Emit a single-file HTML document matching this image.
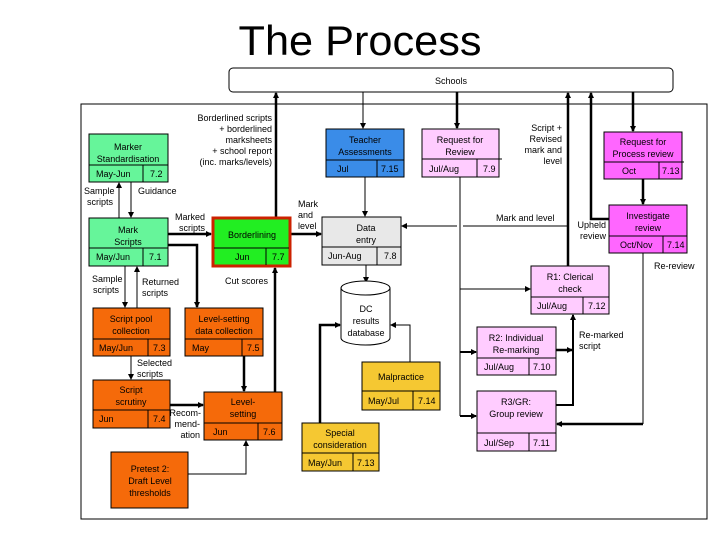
<!DOCTYPE html>
<html><head><meta charset="utf-8"><style>
html,body{margin:0;padding:0;background:#fff;}
svg{display:block;}
text{font-family:"Liberation Sans",sans-serif;font-size:9px;fill:#000;}
.b{stroke:#000;stroke-width:1;}
</style></head><body>
<svg width="720" height="540" viewBox="0 0 720 540" xmlns="http://www.w3.org/2000/svg">
<defs>
<marker id="a" markerWidth="6" markerHeight="6" refX="5" refY="3" orient="auto" markerUnits="userSpaceOnUse"><path d="M0,0 L6,3 L0,6 z" fill="#000"/></marker>
</defs>
<text x="360" y="55" text-anchor="middle" style="font-size:42px" textLength="243" lengthAdjust="spacingAndGlyphs">The Process</text>
<rect x="229" y="68" width="444" height="24" rx="4" fill="#fff" class="b"/>
<text x="451" y="84" text-anchor="middle">Schools</text>
<rect x="81" y="104" width="626" height="415" fill="none" class="b"/>

<g fill="none" stroke="#000">
<!-- Schools connections -->
<line x1="276" y1="217" x2="276" y2="93" stroke-width="2.5" marker-end="url(#a)"/>
<line x1="363" y1="92" x2="363" y2="128" stroke-width="1" marker-end="url(#a)"/>
<line x1="457" y1="92" x2="457" y2="128" stroke-width="2.5" marker-end="url(#a)"/>
<line x1="568" y1="266" x2="568" y2="93" stroke-width="2.5" marker-end="url(#a)"/>
<polyline points="609,219 591,219 591,93" stroke-width="2.5" marker-end="url(#a)"/>
<line x1="633" y1="92" x2="633" y2="131" stroke-width="2.5" marker-end="url(#a)"/>
<!-- Marker std / mark scripts -->
<line x1="119" y1="218" x2="119" y2="183" stroke-width="1" marker-end="url(#a)"/>
<line x1="131" y1="182" x2="131" y2="217" stroke-width="1" marker-end="url(#a)"/>
<line x1="168" y1="234" x2="211" y2="234" stroke-width="2.5" marker-end="url(#a)"/>
<polyline points="168,245 197,245 197,307" stroke-width="2.5" marker-end="url(#a)"/>
<line x1="125" y1="266" x2="125" y2="307" stroke-width="1" marker-end="url(#a)"/>
<line x1="137" y1="308" x2="137" y2="267" stroke-width="1" marker-end="url(#a)"/>
<line x1="131" y1="356" x2="131" y2="379" stroke-width="1" marker-end="url(#a)"/>
<line x1="170" y1="405" x2="203" y2="405" stroke-width="2.5" marker-end="url(#a)"/>
<line x1="244" y1="356" x2="244" y2="391" stroke-width="2.5" marker-end="url(#a)"/>
<line x1="275" y1="392" x2="275" y2="268" stroke-width="2.5" marker-end="url(#a)"/>
<polyline points="188,474 246,474 246,441" stroke-width="1" marker-end="url(#a)"/>
<!-- Borderlining to data entry -->
<line x1="291" y1="234" x2="321" y2="234" stroke-width="2.5" marker-end="url(#a)"/>
<line x1="365" y1="177" x2="365" y2="216" stroke-width="1" marker-end="url(#a)"/>
<line x1="366" y1="265" x2="366" y2="282" stroke-width="1" marker-end="url(#a)"/>
<!-- Mark and level -->
<polyline points="568,226 463,226" stroke-width="1"/>
<line x1="457" y1="226" x2="402" y2="226" stroke-width="1" marker-end="url(#a)"/>
<!-- RfR to R1,R2,R3 -->
<line x1="460" y1="177" x2="460" y2="416" stroke-width="1"/>
<line x1="460" y1="289" x2="530" y2="289" stroke-width="1" marker-end="url(#a)"/>
<line x1="460" y1="352" x2="476" y2="352" stroke-width="2" marker-end="url(#a)"/>
<line x1="460" y1="416" x2="476" y2="416" stroke-width="2" marker-end="url(#a)"/>
<!-- process review -->
<line x1="643" y1="179" x2="643" y2="204" stroke-width="2.5" marker-end="url(#a)"/>
<line x1="643" y1="253" x2="643" y2="424" stroke-width="1"/>
<line x1="643" y1="424" x2="557" y2="424" stroke-width="2.5" marker-end="url(#a)"/>
<!-- re-marked -->
<line x1="556" y1="350" x2="572" y2="350" stroke-width="2.5" marker-end="url(#a)"/>
<polyline points="556,405 573,405 573,315" stroke-width="2" marker-end="url(#a)"/>
<!-- malpractice / special -->
<polyline points="410,362 410,325 391,325" stroke-width="1" marker-end="url(#a)"/>
<polyline points="320,423 320,325 340,325" stroke-width="2.5" marker-end="url(#a)"/>
</g>

<!-- DC database -->
<g fill="#fff" stroke="#000">
<path d="M341,288 L341,338 A24.5,7 0 0 0 390,338 L390,288"/>
<ellipse cx="365.5" cy="288" rx="24.5" ry="7"/>
</g>
<text x="366" y="312" text-anchor="middle">DC</text>
<text x="366" y="324" text-anchor="middle">results</text>
<text x="366" y="336" text-anchor="middle">database</text>

<!-- Boxes -->
<g class="b">
<!-- Marker std -->
<rect x="89" y="134" width="79" height="48" fill="#66f59a"/><line x1="89" y1="165" x2="168" y2="165"/><line x1="143" y1="165" x2="143" y2="182"/>
<!-- Mark scripts -->
<rect x="89" y="218" width="79" height="48" fill="#66f59a"/><line x1="89" y1="248" x2="168" y2="248"/><line x1="143" y1="248" x2="143" y2="266"/>
<!-- Borderlining -->
<rect x="213" y="218" width="77" height="48" fill="#22ee22" stroke="#cc2200" stroke-width="3"/><line x1="214" y1="248" x2="289" y2="248"/><line x1="266" y1="248" x2="266" y2="265"/>
<!-- Data entry -->
<rect x="322" y="217" width="79" height="48" fill="#e8e8e8"/><line x1="322" y1="247" x2="401" y2="247"/><line x1="377" y1="247" x2="377" y2="265"/>
<!-- Teacher -->
<rect x="326" y="129" width="78" height="48" fill="#3a8ce8"/><line x1="326" y1="160" x2="404" y2="160"/><line x1="377" y1="160" x2="377" y2="177"/>
<!-- RfR -->
<rect x="422" y="129" width="77" height="48" fill="#ffccff"/><line x1="422" y1="159" x2="502" y2="159"/><line x1="477" y1="159" x2="477" y2="177"/>
<!-- Process review -->
<rect x="604" y="132" width="78" height="47" fill="#ff66ff"/><line x1="604" y1="162" x2="684" y2="162"/><line x1="659" y1="162" x2="659" y2="179"/>
<!-- Investigate -->
<rect x="609" y="205" width="78" height="48" fill="#ff66ff"/><line x1="609" y1="236" x2="687" y2="236"/><line x1="663" y1="236" x2="663" y2="253"/>
<!-- R1 -->
<rect x="531" y="266" width="78" height="48" fill="#ffccff"/><line x1="531" y1="297" x2="609" y2="297"/><line x1="583" y1="297" x2="583" y2="314"/>
<!-- R2 -->
<rect x="477" y="327" width="79" height="48" fill="#ffccff"/><line x1="477" y1="358" x2="556" y2="358"/><line x1="529" y1="358" x2="529" y2="375"/>
<!-- R3 -->
<rect x="477" y="391" width="79" height="60" fill="#ffccff"/><line x1="477" y1="433" x2="556" y2="433"/><line x1="529" y1="433" x2="529" y2="451"/>
<!-- Malpractice -->
<rect x="362" y="362" width="78" height="48" fill="#f5c832"/><line x1="362" y1="391" x2="440" y2="391"/><line x1="413" y1="391" x2="413" y2="410"/>
<!-- Special -->
<rect x="302" y="423" width="77" height="48" fill="#f5c832"/><line x1="302" y1="453" x2="379" y2="453"/><line x1="353" y1="453" x2="353" y2="471"/>
<!-- Script pool -->
<rect x="93" y="308" width="77" height="48" fill="#f56a0a"/><line x1="93" y1="339" x2="170" y2="339"/><line x1="148" y1="339" x2="148" y2="356"/>
<!-- Level-setting data -->
<rect x="185" y="308" width="78" height="48" fill="#f56a0a"/><line x1="185" y1="339" x2="263" y2="339"/><line x1="242" y1="339" x2="242" y2="356"/>
<!-- Script scrutiny -->
<rect x="93" y="380" width="77" height="48" fill="#f56a0a"/><line x1="93" y1="410" x2="170" y2="410"/><line x1="148" y1="410" x2="148" y2="428"/>
<!-- Level-setting -->
<rect x="204" y="392" width="78" height="48" fill="#f56a0a"/><line x1="204" y1="423" x2="282" y2="423"/><line x1="258" y1="423" x2="258" y2="440"/>
<!-- Pretest -->
<rect x="111" y="452" width="77" height="56" fill="#f56a0a"/>
</g>

<!-- Box text -->
<g text-anchor="middle">
<text x="128" y="150">Marker</text><text x="128" y="162">Standardisation</text>
<text x="128" y="233">Mark</text><text x="128" y="245">Scripts</text>
<text x="252" y="238">Borderlining</text>
<text x="366" y="231">Data</text><text x="366" y="243">entry</text>
<text x="365" y="143">Teacher</text><text x="365" y="155">Assessments</text>
<text x="460" y="143">Request for</text><text x="460" y="155">Review</text>
<text x="643" y="145">Request for</text><text x="643" y="157">Process review</text>
<text x="648" y="219">Investigate</text><text x="648" y="231">review</text>
<text x="570" y="280">R1: Clerical</text><text x="570" y="292">check</text>
<text x="516" y="341">R2: Individual</text><text x="516" y="353">Re-marking</text>
<text x="516" y="405">R3/GR:</text><text x="516" y="417">Group review</text>
<text x="401" y="380">Malpractice</text>
<text x="340" y="436">Special</text><text x="340" y="448">consideration</text>
<text x="131" y="322">Script pool</text><text x="131" y="334">collection</text>
<text x="224" y="322">Level-setting</text><text x="224" y="334">data collection</text>
<text x="131" y="393">Script</text><text x="131" y="405">scrutiny</text>
<text x="243" y="405">Level-</text><text x="243" y="417">setting</text>
<text x="150" y="472">Pretest 2:</text><text x="150" y="484">Draft Level</text><text x="150" y="496">thresholds</text>
</g>
<!-- Date / number cells -->
<text x="96" y="177">May-Jun</text><text x="150" y="177">7.2</text>
<text x="96" y="260">May/Jun</text><text x="149" y="260">7.1</text>
<text x="235" y="260">Jun</text><text x="272" y="260">7.7</text>
<text x="328" y="259">Jun-Aug</text><text x="384" y="259">7.8</text>
<text x="337" y="172">Jul</text><text x="381" y="172">7.15</text>
<text x="429" y="172">Jul/Aug</text><text x="483" y="172">7.9</text>
<text x="622" y="174">Oct</text><text x="662" y="174">7.13</text>
<text x="620" y="248">Oct/Nov</text><text x="667" y="248">7.14</text>
<text x="537" y="309">Jul/Aug</text><text x="588" y="309">7.12</text>
<text x="484" y="370">Jul/Aug</text><text x="533" y="370">7.10</text>
<text x="484" y="446">Jul/Sep</text><text x="533" y="446">7.11</text>
<text x="368" y="404">May/Jul</text><text x="418" y="404">7.14</text>
<text x="308" y="466">May/Jun</text><text x="357" y="466">7.13</text>
<text x="99" y="351">May/Jun</text><text x="153" y="351">7.3</text>
<text x="192" y="351">May</text><text x="247" y="351">7.5</text>
<text x="99" y="422">Jun</text><text x="153" y="422">7.4</text>
<text x="213" y="435">Jun</text><text x="263" y="435">7.6</text>

<!-- Connector labels -->
<g text-anchor="end">
<text x="272" y="121">Borderlined scripts</text>
<text x="272" y="132">+ borderlined</text>
<text x="272" y="143">marksheets</text>
<text x="272" y="154">+ school report</text>
<text x="272" y="165">(inc. marks/levels)</text>
<text x="562" y="131">Script +</text>
<text x="562" y="142">Revised</text>
<text x="562" y="153">mark and</text>
<text x="562" y="164">level</text>
<text x="205" y="220">Marked</text><text x="205" y="231">scripts</text>
<text x="606" y="228">Upheld</text><text x="606" y="239">review</text>
<text x="201" y="416">Recom-</text><text x="200" y="427">mend-</text><text x="200" y="438">ation</text>
</g>
<text x="84" y="194">Sample</text><text x="87" y="205">scripts</text>
<text x="138" y="194">Guidance</text>
<text x="92" y="282">Sample</text><text x="93" y="293">scripts</text>
<text x="142" y="285">Returned</text><text x="142" y="296">scripts</text>
<text x="137" y="366">Selected</text><text x="137" y="377">scripts</text>
<text x="225" y="284">Cut scores</text>
<text x="298" y="207">Mark</text><text x="298" y="218">and</text><text x="298" y="229">level</text>
<text x="496" y="221">Mark and level</text>
<text x="654" y="269">Re-review</text>
<text x="579" y="338">Re-marked</text><text x="579" y="349">script</text>
</svg>
</body></html>
